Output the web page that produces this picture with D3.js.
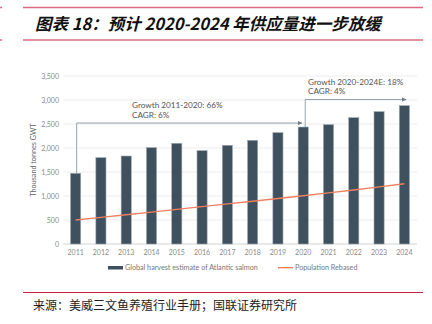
<!DOCTYPE html>
<html>
<head>
<meta charset="utf-8">
<script src="https://cdn.jsdelivr.net/npm/d3@7"></script>
<style>
  body { margin: 0; background: #fff; }
  svg { display: block; }
  text { font-family: Lato, "Open Sans", sans-serif; }
  .cjk { font-family: "Noto Sans CJK SC", sans-serif; }
</style>
</head>
<body>
<script>
var years = ['2011','2012','2013','2014','2015','2016','2017','2018','2019','2020','2021','2022','2023','2024']
var harvest = [1473, 1798, 1833, 2007, 2097, 1944, 2056, 2160, 2319, 2437, 2486, 2632, 2757, 2882]
var population = [500, 555, 610, 665, 722, 778, 835, 890, 948, 1005, 1065, 1125, 1190, 1256]
var yTicks = [0, 500, 1000, 1500, 2000, 2500, 3000, 3500]
var notes = [
  {from: '2011', to: '2020', level: 2520, lines: ['Growth 2011-2020: 66%', 'CAGR: 6%']},
  {from: '2020', to: '2024', level: 3010, lines: ['Growth 2020-2024E: 18%', 'CAGR: 4%']}
]

var W = 432, H = 324
var svg = d3.select('body').append('svg').attr('width', W).attr('height', H)

// header + footer rules
var pink = '#dc6a82'
;[7.5, 40].forEach(y => {
  svg.append('line').attr('x1', 23).attr('x2', 423).attr('y1', y).attr('y2', y)
    .attr('stroke', pink).attr('stroke-width', 1.3)
  svg.append('line').attr('x1', 0).attr('x2', 2).attr('y1', y).attr('y2', y)
    .attr('stroke', pink).attr('stroke-width', 1.3)
})
svg.append('text').attr('class', 'cjk')
  .attr('x', 35).attr('y', 30)
  .attr('font-size', 16.5).attr('font-weight', 'bold').attr('font-style', 'italic')
  .attr('fill', '#111')
  .text('图表 18：预计 2020-2024 年供应量进一步放缓')

svg.append('line').attr('x1', 23).attr('x2', 423).attr('y1', 292.5).attr('y2', 292.5)
  .attr('stroke', '#c8203f').attr('stroke-width', 1.2)
svg.append('text').attr('class', 'cjk')
  .attr('x', 33).attr('y', 309.5)
  .attr('font-size', 12).attr('fill', '#222')
  .text('来源：美威三文鱼养殖行业手册；国联证券研究所')

// plot
var x = d3.scaleBand().domain(years).range([63, 417]).paddingInner(0.6).paddingOuter(0.3)
var y = d3.scaleLinear().domain([0, 3500]).range([244, 76])
var cx = d => x(d) + x.bandwidth() / 2

svg.append('g').selectAll('line').data(yTicks).join('line')
  .attr('x1', 63).attr('x2', 417)
  .attr('y1', d => y(d)).attr('y2', d => y(d))
  .attr('stroke', d => d ? '#ededed' : '#e2e2e2').attr('stroke-width', d => d ? 1 : 1.6)

svg.append('g').selectAll('text').data(yTicks).join('text')
  .attr('x', 59).attr('y', d => y(d) + 2.5)
  .attr('text-anchor', 'end').attr('font-size', 7).attr('fill', '#8a8a8a')
  .text(d3.format(','))

svg.append('text')
  .attr('transform', 'translate(36,160) rotate(-90)')
  .attr('text-anchor', 'middle').attr('font-size', 7.2).attr('fill', '#666')
  .text('Thousand tonnes GWT')

svg.append('g').selectAll('text').data(years).join('text')
  .attr('x', cx).attr('y', 255)
  .attr('text-anchor', 'middle').attr('font-size', 7).attr('fill', '#8a8a8a')
  .text(d => d)

svg.append('g').selectAll('rect').data(harvest).join('rect')
  .attr('x', (d, i) => x(years[i])).attr('width', x.bandwidth())
  .attr('y', d => y(d)).attr('height', d => y(0) - y(d))
  .attr('fill', '#3f505f').attr('stroke', '#9aa5ae').attr('stroke-width', 0.6)

var line = d3.line().x((d, i) => cx(years[i])).y(d => y(d))
svg.append('path').attr('d', line(population))
  .attr('fill', 'none').attr('stroke', '#f0805f').attr('stroke-width', 1.4)

// growth arrows
svg.append('defs').append('marker')
  .attr('id', 'arr').attr('viewBox', '0 0 6 6').attr('refX', 6).attr('refY', 3)
  .attr('markerWidth', 5).attr('markerHeight', 5).attr('orient', 'auto')
  .append('path').attr('d', 'M0,0L6,3L0,6Z').attr('fill', '#6e7d8a')

notes.forEach((n, k) => {
  var i0 = years.indexOf(n.from)
  var top = y(n.level)
  var x0 = cx(n.from) + (k ? 2 : 1)
  var x1 = cx(n.to) + (k ? 2 : -1)
  svg.append('path')
    .attr('d', `M${x0},${y(harvest[i0])}V${top}H${x1}`)
    .attr('fill', 'none').attr('stroke', '#8a97a3').attr('stroke-width', 0.9)
    .attr('marker-end', 'url(#arr)')
  svg.append('g').selectAll('text').data(n.lines).join('text')
    .attr('x', k ? 308 : 132).attr('y', (d, j) => top - 15 + j * 9.5)
    .attr('font-size', 8.2).attr('fill', '#555')
    .text(d => d)
})

// legend
var lg = svg.append('g').attr('font-size', 7.2).attr('fill', '#777')
lg.append('rect').attr('x', 108).attr('y', 266).attr('width', 15).attr('height', 3.5).attr('fill', '#3f505f')
lg.append('text').attr('x', 125).attr('y', 270).text('Global harvest estimate of Atlantic salmon')
lg.append('line').attr('x1', 278).attr('x2', 293).attr('y1', 267.7).attr('y2', 267.7)
  .attr('stroke', '#f0805f').attr('stroke-width', 1.4)
lg.append('text').attr('x', 295).attr('y', 270).text('Population Rebased')
</script>
</body>
</html>
